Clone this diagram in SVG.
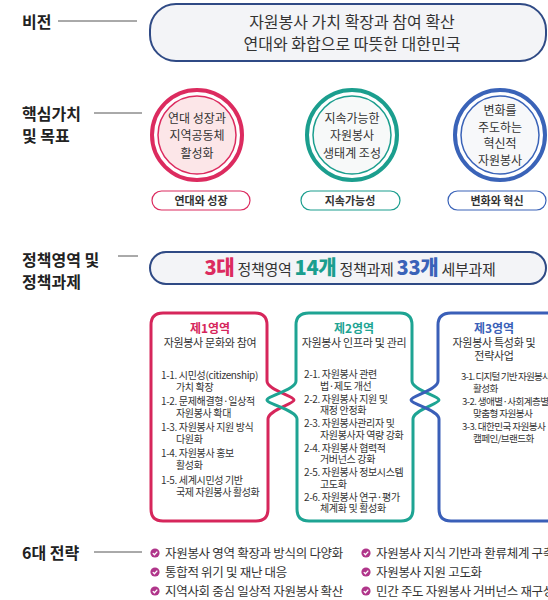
<svg xmlns="http://www.w3.org/2000/svg" width="548" height="600" viewBox="0 0 548 600">
<defs>
<style>
text{font-family:"Noto Sans CJK KR","Noto Sans",sans-serif;fill:#333;}
.lbl{font-size:16px;font-weight:700;fill:#222;}
.vis{font-size:16px;text-anchor:middle;}
.ct{font-size:12px;text-anchor:middle;}
.pt{font-size:11px;font-weight:700;text-anchor:middle;}
.bt{font-size:10px;letter-spacing:-0.35px;}
.bt3{font-size:9.6px;letter-spacing:-0.6px;}
.bh{font-size:12px;font-weight:700;text-anchor:middle;}
.bs{font-size:11px;text-anchor:middle;letter-spacing:-0.3px;}
.st{font-size:12.5px;letter-spacing:-0.3px;}
.guide{stroke:#555;stroke-width:1;fill:none;}
.pill{fill:#f3f4f7;stroke:#2f4a85;stroke-width:2;}
</style>
<g id="chk">
<circle r="4.6" fill="#b0358a"/>
<path d="M-2.2 0.1 L-0.6 1.7 L2.3 -1.4" stroke="#fff" stroke-width="1.3" fill="none"/>
</g>
</defs>
<rect width="548" height="600" fill="#fff"/>

<g id="connectors">
<line class="guide" x1="58" y1="21" x2="137" y2="21"/>
<line class="guide" x1="94" y1="113" x2="142" y2="113"/>
<line class="guide" x1="118" y1="256" x2="138" y2="256"/>
<line class="guide" x1="94" y1="552" x2="142" y2="552"/>
</g>

<g id="vision">
<text class="lbl" x="22" y="28">비전</text>
<rect class="pill" x="150" y="4" width="396" height="57" rx="26"/>
<text class="vis" x="352" y="28">자원봉사 가치 확장과 참여 확산</text>
<text class="vis" x="352" y="50">연대와 화합으로 따뜻한 대한민국</text>
</g>

<g id="core-label">
<text class="lbl" x="22" y="120">핵심가치</text>
<text class="lbl" x="22" y="142">및 목표</text>
</g>

<g id="value1">
<circle cx="197" cy="135" r="45" fill="#fff" stroke="#dc2b5f" stroke-width="4"/>
<circle cx="197" cy="135" r="39" fill="#fce6e8" stroke="#dc2b5f" stroke-width="1.5"/>
<text class="ct" x="197" y="122.5">연대 성장과</text>
<text class="ct" x="197" y="140">지역공동체</text>
<text class="ct" x="197" y="157.5">활성화</text>
<rect x="152" y="191" width="98" height="19" rx="9.5" fill="#fff" stroke="#dc2b5f" stroke-width="1.2"/>
<text class="pt" x="201" y="205">연대와 성장</text>
</g>

<g id="value2">
<circle cx="352" cy="135" r="45" fill="#fff" stroke="#1b9e8e" stroke-width="4"/>
<circle cx="352" cy="135" r="39" fill="#f7f9f9" stroke="#1b9e8e" stroke-width="1.5"/>
<text class="ct" x="352" y="122.5">지속가능한</text>
<text class="ct" x="352" y="140">자원봉사</text>
<text class="ct" x="352" y="157.5">생태계 조성</text>
<rect x="301" y="191" width="99" height="19" rx="9.5" fill="#fff" stroke="#1b9e8e" stroke-width="1.2"/>
<text class="pt" x="350" y="205">지속가능성</text>
</g>

<g id="value3">
<circle cx="500" cy="135" r="45" fill="#fff" stroke="#3a63b8" stroke-width="4"/>
<circle cx="500" cy="135" r="39" fill="#f7f8fa" stroke="#3a63b8" stroke-width="1.5"/>
<text class="ct" x="500" y="115">변화를</text>
<text class="ct" x="500" y="131.5">주도하는</text>
<text class="ct" x="500" y="148">혁신적</text>
<text class="ct" x="500" y="164.5">자원봉사</text>
<rect x="448" y="191" width="98" height="19" rx="9.5" fill="#fff" stroke="#3a63b8" stroke-width="1.2"/>
<text class="pt" x="497" y="205">변화와 혁신</text>
</g>

<g id="policy-label">
<text class="lbl" x="22" y="266">정책영역 및</text>
<text class="lbl" x="22" y="288">정책과제</text>
</g>

<g id="policy-header">
<rect class="pill" x="150" y="252" width="396" height="32" rx="16"/>
<text x="350" y="275" text-anchor="middle" style="font-size:15px;letter-spacing:-0.3px"><tspan style="font-size:20px;font-weight:800;fill:#dc2b5f">3대</tspan> 정책영역 <tspan style="font-size:20px;font-weight:800;fill:#1b9e8e">14개</tspan> 정책과제 <tspan style="font-size:20px;font-weight:800;fill:#3a63b8">33개</tspan> 세부과제</text>
</g>

<g id="area1">
<path d="M163 313 H255 Q267 313 267 325 V381 C267 390 294 396 294 400 C294 404 268 410 268 419 V509 Q268 521 256 521 H163 Q151 521 151 509 V325 Q151 313 163 313 Z" fill="#fff" stroke="#d6265b" stroke-width="3"/>
<text class="bh" x="210" y="333" style="fill:#d6265b">제1영역</text>
<text class="bs" x="210" y="347">자원봉사 문화와 참여</text>
<text class="bt" x="161" y="379">1-1. 시민성(citizenship)</text>
<text class="bt" x="176" y="391">가치 확장</text>
<text class="bt" x="161" y="405">1-2. 문제해결형·일상적</text>
<text class="bt" x="176" y="417">자원봉사 확대</text>
<text class="bt" x="161" y="431">1-3. 자원봉사 지원 방식</text>
<text class="bt" x="176" y="443">다원화</text>
<text class="bt" x="161" y="457">1-4. 자원봉사 홍보</text>
<text class="bt" x="176" y="469">활성화</text>
<text class="bt" x="161" y="484">1-5. 세계시민성 기반</text>
<text class="bt" x="176" y="496">국제 자원봉사 활성화</text>
</g>

<g id="area2">
<path d="M309 313 H400 Q412 313 412 325 V381 C412 390 439 396 439 400 C439 404 413 410 413 419 V509 Q413 521 401 521 H309 Q297 521 297 509 V419 C297 410 267 404 267 400 C267 396 296 390 296 381 V325 Q296 313 309 313 Z" fill="none" stroke="#1ea493" stroke-width="3"/>
<text class="bh" x="354" y="333" style="fill:#1ea493">제2영역</text>
<text class="bs" x="354" y="347">자원봉사 인프라 및 관리</text>
<text class="bt" x="304" y="378">2-1. 자원봉사 관련</text>
<text class="bt" x="320" y="389.5">법·제도 개선</text>
<text class="bt" x="304" y="402.5">2-2. 자원봉사 지원 및</text>
<text class="bt" x="320" y="414">재정 안정화</text>
<text class="bt" x="304" y="427">2-3. 자원봉사관리자 및</text>
<text class="bt" x="320" y="438.5">자원봉사자 역량 강화</text>
<text class="bt" x="304" y="451.5">2-4. 자원봉사 협력적</text>
<text class="bt" x="320" y="463">거버넌스 강화</text>
<text class="bt" x="304" y="476">2-5. 자원봉사 정보시스템</text>
<text class="bt" x="320" y="487.5">고도화</text>
<text class="bt" x="304" y="500.5">2-6. 자원봉사 연구·평가</text>
<text class="bt" x="320" y="512">체계화 및 활성화</text>
</g>

<g id="area3">
<path d="M560 313 H451 Q438 313 438 325 V381 C438 390 411 396 411 400 C411 404 439 410 439 419 V509 Q439 521 451 521 H560" fill="none" stroke="#3a5fb8" stroke-width="3"/>
<text class="bh" x="494" y="333" style="fill:#3a5fb8">제3영역</text>
<text class="bs" x="494" y="347">자원봉사 특성화 및</text>
<text class="bs" x="494" y="360">전략사업</text>
<text class="bt3" x="461" y="380" style="letter-spacing:-0.85px">3-1. 디지털 기반 자원봉사</text>
<text class="bt3" x="473" y="392">활성화</text>
<text class="bt3" x="462" y="405">3-2. 생애별·사회계층별</text>
<text class="bt3" x="473" y="417">맞춤형 자원봉사</text>
<text class="bt3" x="462" y="430">3-3. 대한민국 자원봉사</text>
<text class="bt3" x="473" y="442">캠페인/브랜드화</text>
</g>

<g id="strategy">
<text class="lbl" x="22" y="559">6대 전략</text>
<use href="#chk" x="155" y="553"/>
<text class="st" x="165" y="558">자원봉사 영역 확장과 방식의 다양화</text>
<use href="#chk" x="155" y="572"/>
<text class="st" x="165" y="577">통합적 위기 및 재난 대응</text>
<use href="#chk" x="155" y="591"/>
<text class="st" x="165" y="596">지역사회 중심 일상적 자원봉사 확산</text>
<use href="#chk" x="366" y="553"/>
<text class="st" x="376" y="558">자원봉사 지식 기반과 환류체계 구축</text>
<use href="#chk" x="366" y="572"/>
<text class="st" x="376" y="577">자원봉사 지원 고도화</text>
<use href="#chk" x="366" y="591"/>
<text class="st" x="376" y="596">민간 주도 자원봉사 거버넌스 재구성</text>
</g>
</svg>
